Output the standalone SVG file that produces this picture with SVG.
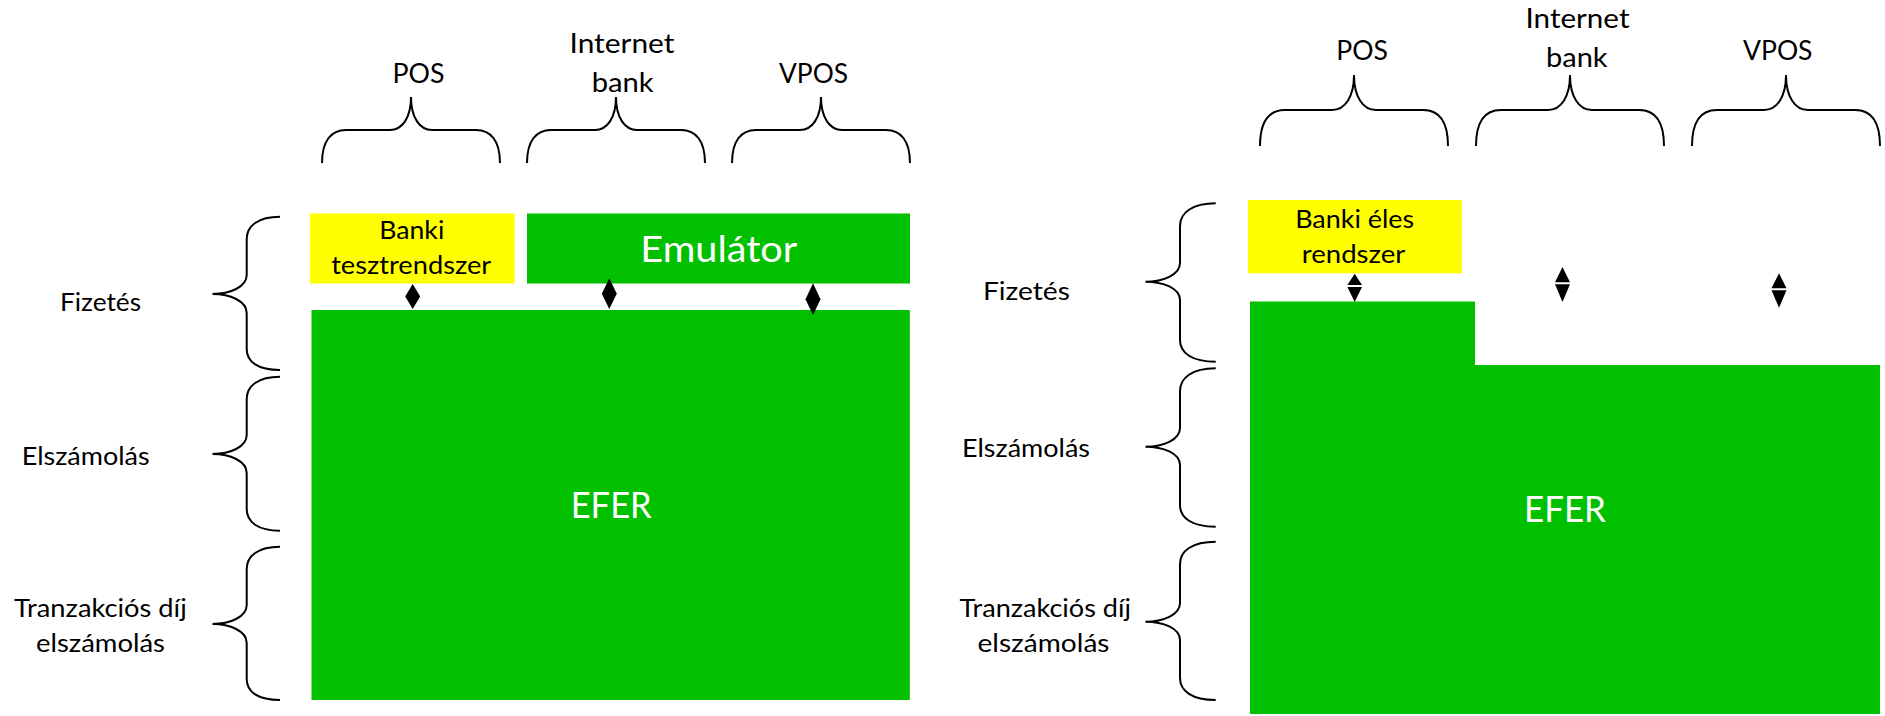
<svg xmlns="http://www.w3.org/2000/svg" width="1885" height="716" viewBox="0 0 1885 716">
<style>
.t{font-family:Lato,"Open Sans","Liberation Sans",sans-serif;fill:#000}
.m{font-size:27.8px}
.s{font-size:25.6px}
.b{font-size:36.6px;fill:#fff}
.brace{fill:none;stroke:#000;stroke-width:2}
.green{fill:#00c000}
.yellow{fill:#ffff00}
.arr{fill:#000}
</style>
<rect width="1885" height="716" fill="#fff"/>

<!-- LEFT DIAGRAM -->
<g id="left-col-pos"><path class="brace" d="M322,163 C322,141 331,130 346,130 L390,130 C402,130 411,118 411,97 C411,118 420,130 432,130 L476,130 C491,130 500,141 500,163"/>
<text class="t m" x="392.5" y="82.7" textLength="52" lengthAdjust="spacingAndGlyphs">POS</text></g>
<g id="left-col-ib"><path class="brace" d="M527,163 C527,141 536,130 551,130 L595,130 C607,130 616,118 616,97 C616,118 625,130 637,130 L681,130 C696,130 705,141 705,163"/>
<text class="t m" x="569.5" y="53.3" textLength="105" lengthAdjust="spacingAndGlyphs">Internet</text>
<text class="t m" x="591.7" y="92" textLength="62" lengthAdjust="spacingAndGlyphs">bank</text></g>
<g id="left-col-vpos"><path class="brace" d="M732,163 C732,141 741,130 756,130 L800,130 C812,130 821,118 821,97 C821,118 830,130 842,130 L886,130 C901,130 910,141 910,163"/>
<text class="t m" x="779" y="82.7" textLength="69" lengthAdjust="spacingAndGlyphs">VPOS</text></g>

<g id="left-row-fizetes"><path class="brace" d="M280,216.7 C258,216.7 246.7,226 246.7,239 L246.7,275 C246.7,287 230,294 212.5,294 C230,294 246.7,301 246.7,313 L246.7,349 C246.7,362 258,370 280,370"/>
<text class="t s" x="60" y="311" textLength="81" lengthAdjust="spacingAndGlyphs">Fizetés</text></g>
<g id="left-row-elszamolas"><path class="brace" d="M280,376.7 C258,376.7 246.7,386 246.7,399 L246.7,435 C246.7,447 230,454 212.5,454 C230,454 246.7,461 246.7,473 L246.7,509 C246.7,522 258,530.7 280,530.7"/>
<text class="t s" x="21.7" y="465" textLength="128" lengthAdjust="spacingAndGlyphs">Elszámolás</text></g>
<g id="left-row-tranzakcios"><path class="brace" d="M280,546.7 C258,546.7 246.7,556 246.7,569 L246.7,605 C246.7,617 230,624 212.5,624 C230,624 246.7,631 246.7,643 L246.7,679 C246.7,692 258,700 280,700"/>
<text class="t s" x="14" y="616.7" textLength="172.7" lengthAdjust="spacingAndGlyphs">Tranzakciós díj</text>
<text class="t s" x="36" y="651.7" textLength="129" lengthAdjust="spacingAndGlyphs">elszámolás</text></g>

<g id="left-banki-teszt"><rect class="yellow" x="310" y="213.5" width="204.5" height="70"/>
<text class="t s" x="379.3" y="239.3" textLength="65" lengthAdjust="spacingAndGlyphs">Banki</text>
<text class="t s" x="331.2" y="274" textLength="160" lengthAdjust="spacingAndGlyphs">tesztrendszer</text></g>
<g id="left-emulator"><rect class="green" x="527" y="213.5" width="383" height="70"/>
<text class="t b" x="640.3" y="261.7" textLength="157" lengthAdjust="spacingAndGlyphs">Emulátor</text></g>
<g id="left-efer"><rect class="green" x="311.5" y="310" width="598.3" height="390"/>
<text class="t b" x="570.7" y="517.7" textLength="81" lengthAdjust="spacingAndGlyphs">EFER</text></g>

<!-- RIGHT DIAGRAM -->
<g id="right-col-pos"><path class="brace" d="M1260,146 C1260,122 1269,110 1285,110 L1332,110 C1345,110 1354,97 1354,75 C1354,97 1363,110 1376,110 L1423,110 C1439,110 1448,122 1448,146"/>
<text class="t m" x="1336.3" y="60" textLength="51.6" lengthAdjust="spacingAndGlyphs">POS</text></g>
<g id="right-col-ib"><path class="brace" d="M1476,146 C1476,122 1485,110 1501,110 L1548,110 C1561,110 1570,97 1570,75 C1570,97 1579,110 1592,110 L1639,110 C1655,110 1664,122 1664,146"/>
<text class="t m" x="1525.5" y="28.3" textLength="104" lengthAdjust="spacingAndGlyphs">Internet</text>
<text class="t m" x="1546" y="66.7" textLength="61.6" lengthAdjust="spacingAndGlyphs">bank</text></g>
<g id="right-col-vpos"><path class="brace" d="M1692,146 C1692,122 1701,110 1717,110 L1764,110 C1777,110 1786,97 1786,75 C1786,97 1795,110 1808,110 L1855,110 C1871,110 1880,122 1880,146"/>
<text class="t m" x="1743" y="60" textLength="69.5" lengthAdjust="spacingAndGlyphs">VPOS</text></g>

<g id="right-row-fizetes"><path class="brace" d="M1215.7,203.3 C1192,203.3 1180,213 1180,226 L1180,263 C1180,275 1163,281.7 1145.4,281.7 C1163,281.7 1180,288 1180,300 L1180,340 C1180,353 1192,361.7 1215.7,361.7"/>
<text class="t s" x="982.9" y="300" textLength="87" lengthAdjust="spacingAndGlyphs">Fizetés</text></g>
<g id="right-row-elszamolas"><path class="brace" d="M1215.7,368.3 C1192,368.3 1180,378 1180,391 L1180,428 C1180,440 1163,446.7 1145.4,446.7 C1163,446.7 1180,453 1180,465 L1180,505 C1180,518 1192,526.7 1215.7,526.7"/>
<text class="t s" x="962" y="456.7" textLength="128" lengthAdjust="spacingAndGlyphs">Elszámolás</text></g>
<g id="right-row-tranzakcios"><path class="brace" d="M1215.7,541.7 C1192,541.7 1180,551 1180,564 L1180,603 C1180,615 1163,621.7 1145.4,621.7 C1163,621.7 1180,628 1180,640 L1180,678 C1180,691 1192,700 1215.7,700"/>
<text class="t s" x="959.6" y="616.7" textLength="171.4" lengthAdjust="spacingAndGlyphs">Tranzakciós díj</text>
<text class="t s" x="977.5" y="651.7" textLength="132" lengthAdjust="spacingAndGlyphs">elszámolás</text></g>

<g id="right-banki-eles"><rect class="yellow" x="1248" y="200" width="214" height="73.3"/>
<text class="t s" x="1295.2" y="228.3" textLength="119" lengthAdjust="spacingAndGlyphs">Banki éles</text>
<text class="t s" x="1301.8" y="263.3" textLength="103.5" lengthAdjust="spacingAndGlyphs">rendszer</text></g>
<g id="right-efer"><path class="green" d="M1250,301.5 L1475,301.5 L1475,365 L1880,365 L1880,714 L1250,714 Z"/>
<text class="t b" x="1524" y="521.7" textLength="82" lengthAdjust="spacingAndGlyphs">EFER</text></g>

<!-- CONNECTORS -->
<g id="connectors">
<path class="arr" d="M412.7,284 L420.2,296.5 L412.7,309 L405.2,296.5 Z"/>
<path class="arr" d="M609.3,278.3 L616.8,293.7 L609.3,309 L601.8,293.7 Z"/>
<path class="arr" d="M813,283.3 L820.5,299.2 L813,315 L805.5,299.2 Z"/>
<path class="arr" d="M1354.7,273.7 L1362,285 L1347.4,285 Z M1347.4,287 L1362,287 L1354.7,302 Z"/>
<path class="arr" d="M1562.5,267 L1570,282.3 L1555,282.3 Z M1555,284.3 L1570,284.3 L1562.5,302 Z"/>
<path class="arr" d="M1779,273.3 L1786.5,288.3 L1771.5,288.3 Z M1771.5,290.3 L1786.5,290.3 L1779,307.7 Z"/>
</g>
</svg>
